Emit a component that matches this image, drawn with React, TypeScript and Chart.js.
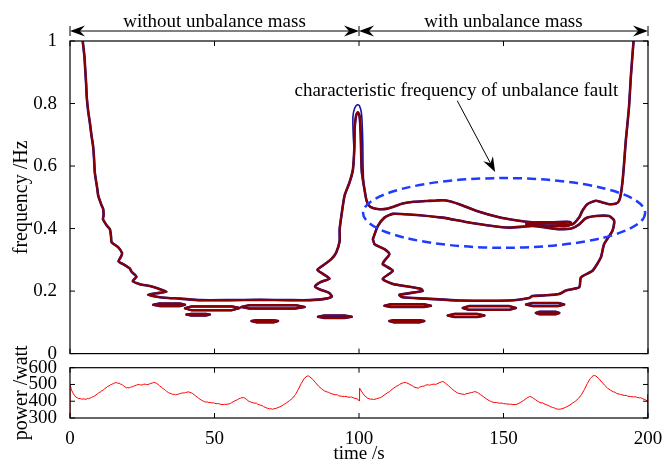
import React, { useEffect, useRef } from 'react';
import { Chart, registerables } from 'chart.js';
Chart.register(...registerables);

const FONT = "'Liberation Serif', 'Times New Roman', serif";

// ---------- axis ticks / labels ----------
const timeTicks = [0, 50, 100, 150, 200];
const freqTicks = [0, 0.2, 0.4, 0.6, 0.8, 1];
const freqTickLabels = ['0', '0.2', '0.4', '0.6', '0.8', '1'];
const powerTicks = [300, 400, 500, 600];
const powerTickLabels = ['300', '400', '500', '600'];
const freqTitle = 'frequency /Hz';
const powerTitle = 'power /watt';
const timeTitle = 'time /s';
const segmentBounds = [0, 100, 200];
const segmentLabels = ['without unbalance mass', 'with unbalance mass'];
const annotationText = 'characteristic frequency of unbalance fault';
// annotation anchor points in data units [time, frequency]
const annotationTextAt = [133.7, 0.824];
const annotationArrowFrom = [134, 0.809];
const annotationArrowTo = [147.1, 0.581];
const ellipseCenter = [150.2, 0.45];
const ellipseRadii = [48.8, 0.1115];

// ---------- contour curves [time s, frequency Hz] ----------
const contourMain = [
  [4.4, 1.0], [5.0, 0.95], [5.2, 0.92], [5.6, 0.86], [5.8, 0.82], [6.3, 0.775], [6.9, 0.737], [7.4, 0.7],
  [8.0, 0.663], [8.3, 0.627], [8.6, 0.578], [9.4, 0.53], [9.8, 0.504], [10.9, 0.475], [11.5, 0.462],
  [11.6, 0.44], [11.4, 0.43], [12.7, 0.41], [13.8, 0.398], [14.2, 0.375], [14.4, 0.356], [16.7, 0.34],
  [18.0, 0.322], [17.8, 0.313], [16.8, 0.295], [18.4, 0.286], [20.7, 0.272], [21.3, 0.262], [23, 0.246],
  [21.7, 0.232], [24.2, 0.222], [27.6, 0.216], [30.5, 0.208], [33.4, 0.198], [30, 0.193], [27, 0.188],
  [30, 0.182], [34, 0.178], [38, 0.176], [45, 0.171], [55, 0.171], [65.6, 0.172], [76, 0.171], [83, 0.171],
  [88, 0.175], [90.6, 0.183], [89.5, 0.195], [86.5, 0.205], [84.8, 0.215], [86.5, 0.228], [89.8, 0.24],
  [87.5, 0.255], [85.6, 0.268], [88, 0.285], [90.4, 0.302], [92.1, 0.323], [93.3, 0.36], [93.3, 0.397],
  [93.9, 0.44], [95, 0.505], [96.7, 0.547], [97.9, 0.589], [98.4, 0.66], [98.5, 0.72], [99.0, 0.762],
  [99.6, 0.772], [100.2, 0.76], [100.6, 0.7], [100.8, 0.62], [101.0, 0.58], [101.9, 0.525], [102.6, 0.49],
  [103.5, 0.473], [104.8, 0.466], [107, 0.462], [109.4, 0.463], [112, 0.47], [115.1, 0.48], [119, 0.486],
  [123.2, 0.488], [127, 0.49], [130.1, 0.49], [134.7, 0.478], [140.5, 0.457], [148.5, 0.436], [155.4, 0.425],
  [160, 0.42], [166, 0.418], [170.4, 0.414], [173.9, 0.414], [176.2, 0.436], [177.3, 0.457], [179, 0.478],
  [181.9, 0.489], [184, 0.484], [186.5, 0.478], [189, 0.48], [190, 0.489], [190.6, 0.51], [191.2, 0.552],
  [191.7, 0.605], [192.3, 0.679], [193.4, 0.785], [194.1, 0.89], [195, 1.0],
];
const contourPeakOuter = [
  [97.3, 0.56], [97.9, 0.589], [98.3, 0.64], [98.0, 0.7], [97.9, 0.758], [98.5, 0.785], [99.4, 0.796],
  [100.2, 0.792], [100.9, 0.765], [101.3, 0.68], [101.4, 0.6], [101.6, 0.55],
];
const contourBowl = [
  [104.8, 0.366], [106.5, 0.408], [108.8, 0.435], [111.7, 0.447], [117.4, 0.445], [128.9, 0.435],
  [137, 0.421], [146.2, 0.408], [152, 0.403], [160, 0.408], [165, 0.403], [169.3, 0.398], [173.5, 0.4],
  [176, 0.412], [178.5, 0.433], [182, 0.44], [186.5, 0.44], [188.3, 0.425], [187.7, 0.393], [184.8, 0.35],
  [183.7, 0.308], [180.8, 0.265], [176.8, 0.244], [176.2, 0.212], [171.6, 0.202], [169.3, 0.191],
  [164, 0.186], [160, 0.184], [158.9, 0.178], [152, 0.17], [134.7, 0.17], [123.2, 0.176], [115.1, 0.18],
  [114, 0.188], [122, 0.2], [121.5, 0.207], [111.7, 0.223], [108.2, 0.239], [111.7, 0.265], [108.2, 0.286],
  [108.8, 0.297], [110.5, 0.318], [108.8, 0.334], [105.4, 0.35], [104.8, 0.366],
];
const contourSliver = [
  [158, 0.418], [166, 0.42], [173, 0.421], [173.5, 0.415], [172, 0.408], [165, 0.41], [158, 0.412], [158, 0.418],
];
const islandA = [[28.8, 0.156], [31, 0.16], [38, 0.16], [39.8, 0.156], [38, 0.152], [31, 0.152], [28.8, 0.156]];
const islandB = [[39.8, 0.145], [42, 0.151], [56, 0.151], [58.7, 0.146], [56, 0.139], [42, 0.139], [39.8, 0.145]];
const islandC = [[59.3, 0.149], [62, 0.155], [78, 0.155], [81.2, 0.149], [78, 0.144], [62, 0.144], [59.3, 0.149]];
const islandD = [[40.3, 0.125], [42, 0.127], [47, 0.127], [48.4, 0.125], [47, 0.122], [42, 0.122], [40.3, 0.125]];
const islandE = [[62.8, 0.104], [64.5, 0.107], [70.5, 0.107], [72, 0.104], [70.5, 0.1], [64.5, 0.1], [62.8, 0.104]];
const islandF = [[85.8, 0.118], [88, 0.122], [95, 0.122], [97.5, 0.118], [95, 0.114], [88, 0.114], [85.8, 0.118]];
const islandG = [[108.8, 0.153], [111, 0.158], [122.5, 0.158], [124.9, 0.153], [122.5, 0.149], [111, 0.149], [108.8, 0.153]];
const islandH = [[135.9, 0.146], [138, 0.152], [152, 0.152], [154.3, 0.146], [152, 0.14], [138, 0.14], [135.9, 0.146]];
const islandI = [[130.7, 0.122], [133, 0.127], [141, 0.127], [143.4, 0.122], [141, 0.117], [133, 0.117], [130.7, 0.122]];
const islandJ = [[110.5, 0.104], [112, 0.107], [121, 0.107], [122.6, 0.104], [121, 0.1], [112, 0.1], [110.5, 0.104]];
const islandK = [[157.8, 0.157], [160, 0.162], [169, 0.162], [171, 0.157], [169, 0.152], [160, 0.152], [157.8, 0.157]];
const islandL = [[161.2, 0.13], [162.5, 0.134], [168, 0.134], [169.3, 0.13], [168, 0.126], [162.5, 0.126], [161.2, 0.13]];

const contourLines = [contourMain, contourBowl, contourSliver];
const contourIslands = [islandA, islandB, islandC, islandD, islandE, islandF, islandG, islandH, islandI, islandJ, islandK, islandL];

// ---------- power signal [time s, power W] ----------
const powerSeries = [
  [0, 300], [0, 500], [0.5, 468], [1, 450], [1.5, 436], [2, 425], [2.5, 421], [3, 415], [3.5, 417], [4, 412], [4.5, 414],
  [5, 413], [5.5, 411], [6, 416], [6.5, 415], [7, 420], [7.5, 423], [8, 428], [8.5, 431], [9, 438], [9.5, 443],
  [10, 452], [10.5, 455], [11, 462], [11.5, 467], [12, 475], [12.5, 480], [13, 488], [13.5, 491], [14, 498],
  [14.5, 501], [15, 506], [15.5, 509], [16, 512], [16.5, 507], [17, 508], [17.5, 502], [18, 500], [18.5, 491],
  [19, 486], [19.5, 480], [20, 482], [20.5, 479], [21, 484], [21.5, 486], [22, 490], [22.5, 493], [23, 496],
  [23.5, 499], [24, 500], [24.5, 496], [25, 498], [25.5, 501], [26, 502], [26.5, 499], [27, 500], [27.5, 503],
  [28, 506], [28.5, 509], [29, 512], [29.5, 510], [30, 506], [30.5, 500], [31, 492], [31.5, 486], [32, 478],
  [32.5, 472], [33, 465], [33.5, 458], [34, 452], [34.5, 448], [35, 445], [35.5, 441], [36, 442], [36.5, 438],
  [37, 440], [37.5, 443], [38, 445], [38.5, 448], [39, 450], [39.5, 449], [40, 452], [40.5, 454], [41, 456],
  [41.5, 453], [42, 450], [42.5, 445], [43, 438], [43.5, 431], [44, 425], [44.5, 418], [45, 412], [45.5, 406],
  [46, 402], [46.5, 397], [47, 395], [47.5, 396], [48, 392], [48.5, 393], [49, 390], [49.5, 391], [50, 388],
  [51, 385], [51.5, 386], [52, 382], [53, 380], [53.5, 382], [54, 381], [55, 384], [55.5, 387], [56, 392],
  [57, 402], [58, 410], [58.5, 415], [59, 418], [59.5, 421], [60, 422], [60.5, 418], [61, 412], [62, 398],
  [62.5, 396], [63, 392], [64, 388], [64.5, 389], [65, 382], [66, 376], [66.5, 374], [67, 368], [68, 360],
  [68.5, 358], [69, 354], [69.5, 356], [70, 352], [70.5, 355], [71, 356], [72, 362], [73, 370], [74, 380],
  [75, 392], [76, 404], [77, 418], [78, 440], [79, 470], [80, 505], [81, 535], [82, 550], [82.5, 551], [83, 545],
  [84, 530], [85, 510], [86, 490], [87, 475], [88, 462], [89, 455], [89.5, 453], [90, 448], [91, 442], [92, 438],
  [92.5, 439], [93, 432], [94, 430], [95, 428], [95.5, 429], [96, 425], [97, 424], [97.5, 425], [98, 420],
  [99, 416], [99.5, 414], [100, 402],
  [100.2, 478], [101, 455], [102, 432], [103, 418], [104, 412], [104.5, 413], [105, 410], [106, 414], [107, 420],
  [107.5, 422], [108, 428], [109, 440], [110, 452], [110.5, 456], [111, 465], [112, 478], [113, 490], [113.5, 493],
  [114, 500], [115, 508], [115.5, 511], [116, 512], [116.5, 509], [117, 506], [118, 496], [118.5, 492], [119, 485],
  [120, 480], [120.5, 478], [121, 484], [122, 490], [122.5, 489], [123, 496], [124, 498], [124.5, 495], [125, 500],
  [126, 502], [126.5, 499], [127, 504], [128, 512], [128.5, 515], [129, 518], [129.5, 513], [130, 506], [131, 492],
  [132, 476], [133, 462], [134, 450], [134.5, 447], [135, 445], [136, 442], [136.5, 440], [137, 444], [138, 448],
  [139, 452], [139.5, 454], [140, 458], [140.5, 455], [141, 452], [142, 440], [143, 428], [144, 415], [145, 404],
  [145.5, 400], [146, 396], [147, 392], [147.5, 393], [148, 390], [149, 388], [149.5, 389], [150, 386], [151, 384],
  [152, 382], [152.5, 383], [153, 380], [154, 380], [155, 384], [156, 394], [157, 405], [158, 418], [158.5, 423],
  [159, 428], [159.5, 426], [160, 422], [161, 410], [162, 398], [163, 390], [163.5, 391], [164, 385], [165, 378],
  [166, 370], [167, 362], [167.5, 361], [168, 356], [169, 352], [169.5, 353], [170, 354], [171, 360], [172, 368],
  [173, 378], [174, 390], [175, 402], [176, 418], [177, 440], [178, 470], [179, 505], [180, 535], [181, 552],
  [181.5, 554], [182, 550], [183, 535], [184, 515], [185, 495], [186, 478], [187, 466], [188, 456], [188.5, 454],
  [189, 448], [190, 442], [190.5, 441], [191, 438], [192, 434], [192.5, 435], [193, 430], [194, 428], [195, 426],
  [195.5, 427], [196, 424], [197, 420], [197.5, 421], [198, 416], [199, 410], [199.8, 400], [200, 440], [200, 300],
];

const RED = '#8a0000';
const BLUE = '#14149c';
const toXY = (arr: number[][]) => arr.map(([x, y]) => ({ x, y }));

function arrowHead(ctx: CanvasRenderingContext2D, tx: number, ty: number, ux: number, uy: number, len: number, hw: number, notch: number) {
  const bx = tx - ux * len, by = ty - uy * len;
  const px = -uy, py = ux;
  ctx.beginPath();
  ctx.moveTo(tx, ty);
  ctx.lineTo(bx + px * hw, by + py * hw);
  ctx.lineTo(tx - ux * (len - notch), ty - uy * (len - notch));
  ctx.lineTo(bx - px * hw, by - py * hw);
  ctx.closePath();
  ctx.fill();
}

function boxAndTicks(chart: any, xv: number[], yv: number[], len: number) {
  const { ctx, chartArea: a, scales } = chart;
  const x = scales.x, y = scales.y;
  ctx.save();
  ctx.strokeStyle = '#000';
  ctx.lineWidth = 1.2;
  ctx.strokeRect(a.left, a.top, a.right - a.left, a.bottom - a.top);
  ctx.lineWidth = 1;
  ctx.beginPath();
  xv.forEach((v) => {
    const p = x.getPixelForValue(v);
    ctx.moveTo(p, a.bottom); ctx.lineTo(p, a.bottom - len);
    ctx.moveTo(p, a.top); ctx.lineTo(p, a.top + len);
  });
  yv.forEach((v) => {
    const p = y.getPixelForValue(v);
    ctx.moveTo(a.left, p); ctx.lineTo(a.left + len, p);
    ctx.moveTo(a.right, p); ctx.lineTo(a.right - len, p);
  });
  ctx.stroke();
  ctx.restore();
}

function verticalTitle(ctx: CanvasRenderingContext2D, text: string, cx: number, cy: number) {
  ctx.save();
  ctx.translate(cx, cy);
  ctx.rotate(-Math.PI / 2);
  ctx.fillStyle = '#000';
  ctx.font = `20px ${FONT}`;
  ctx.textAlign = 'center';
  ctx.textBaseline = 'middle';
  ctx.fillText(text, 0, 0);
  ctx.restore();
}

const mainDecor = {
  id: 'mainDecor',
  afterDatasetsDraw(chart: any) {
    const { ctx, scales } = chart;
    const x = scales.x, y = scales.y;
    ctx.save();
    const cx = x.getPixelForValue(ellipseCenter[0]);
    const cy = y.getPixelForValue(ellipseCenter[1]);
    const rx = x.getPixelForValue(ellipseCenter[0] + ellipseRadii[0]) - cx;
    const ry = cy - y.getPixelForValue(ellipseCenter[1] + ellipseRadii[1]);
    ctx.beginPath();
    ctx.ellipse(cx, cy, rx, ry, 0, 0, Math.PI * 2);
    ctx.setLineDash([9, 5]);
    ctx.lineWidth = 2.5;
    ctx.strokeStyle = '#1e3cff';
    ctx.stroke();
    ctx.setLineDash([]);
    ctx.fillStyle = '#000';
    ctx.font = `19px ${FONT}`;
    ctx.textAlign = 'center';
    ctx.textBaseline = 'alphabetic';
    ctx.fillText(annotationText, x.getPixelForValue(annotationTextAt[0]), y.getPixelForValue(annotationTextAt[1]));
    const fx = x.getPixelForValue(annotationArrowFrom[0]), fy = y.getPixelForValue(annotationArrowFrom[1]);
    const tx = x.getPixelForValue(annotationArrowTo[0]), ty = y.getPixelForValue(annotationArrowTo[1]);
    const d = Math.hypot(tx - fx, ty - fy);
    const ux = (tx - fx) / d, uy = (ty - fy) / d;
    ctx.strokeStyle = '#000';
    ctx.lineWidth = 1;
    ctx.beginPath();
    ctx.moveTo(fx, fy);
    ctx.lineTo(tx - ux * 8, ty - uy * 8);
    ctx.stroke();
    arrowHead(ctx, tx, ty, ux, uy, 15, 5.5, 5);
    ctx.restore();
  },
  afterDraw(chart: any) {
    const { ctx, chartArea: a, scales } = chart;
    const x = scales.x;
    boxAndTicks(chart, timeTicks, freqTicks, 5);
    ctx.save();
    ctx.fillStyle = '#000';
    ctx.strokeStyle = '#000';
    const ay = a.top - 10;
    ctx.lineWidth = 1;
    ctx.beginPath();
    segmentBounds.forEach((b) => {
      const p = x.getPixelForValue(b);
      ctx.moveTo(p, ay - 5); ctx.lineTo(p, ay + 5);
    });
    ctx.stroke();
    ctx.font = `19px ${FONT}`;
    ctx.textAlign = 'center';
    ctx.textBaseline = 'alphabetic';
    for (let i = 0; i < segmentLabels.length; i++) {
      const p0 = x.getPixelForValue(segmentBounds[i]);
      const p1 = x.getPixelForValue(segmentBounds[i + 1]);
      ctx.beginPath();
      ctx.moveTo(p0 + 6, ay); ctx.lineTo(p1 - 6, ay);
      ctx.stroke();
      arrowHead(ctx, p0, ay, -1, 0, 15, 5.5, 5);
      arrowHead(ctx, p1, ay, 1, 0, 15, 5.5, 5);
      ctx.fillText(segmentLabels[i], (p0 + p1) / 2, a.top - 14);
    }
    ctx.restore();
    verticalTitle(ctx, freqTitle, 22, (a.top + a.bottom) / 2);
  },
};

const powerDecor = {
  id: 'powerDecor',
  afterDraw(chart: any) {
    const { ctx, chartArea: a, scales } = chart;
    boxAndTicks(chart, timeTicks, powerTicks, 5);
    verticalTitle(ctx, powerTitle, 22, (a.top + a.bottom) / 2);
    ctx.save();
    ctx.fillStyle = '#000';
    ctx.font = `19px ${FONT}`;
    ctx.textAlign = 'center';
    ctx.textBaseline = 'alphabetic';
    ctx.fillText(timeTitle, scales.x.getPixelForValue(100), a.bottom + 41);
    ctx.restore();
  },
};

export default function App() {
  const mainRef = useRef<HTMLCanvasElement>(null);
  const powerRef = useRef<HTMLCanvasElement>(null);

  useEffect(() => {
    const lineDs = (arr: number[][], color: string, width: number, order: number, tension: number) => ({
      data: toXY(arr),
      showLine: true,
      borderColor: color,
      borderWidth: width,
      pointRadius: 0,
      tension,
      order,
      borderJoinStyle: 'round' as const,
      borderCapStyle: 'round' as const,
    });
    const datasets: any[] = [];
    contourLines.forEach((c) => datasets.push(lineDs(c, RED, 2.1, 0, 0.2)));
    contourIslands.forEach((c) => datasets.push(lineDs(c, RED, 2.1, 0, 0)));
    contourLines.forEach((c) => datasets.push(lineDs(c, BLUE, 2.6, 1, 0.2)));
    contourIslands.forEach((c) => datasets.push(lineDs(c, BLUE, 2.5, 1, 0)));
    datasets.push(lineDs(contourPeakOuter, BLUE, 1.6, 1, 0.3));

    const tickFont = { family: FONT, size: 19 };
    const main = new Chart(mainRef.current!, {
      type: 'scatter',
      data: { datasets },
      options: {
        animation: false,
        responsive: false,
        maintainAspectRatio: false,
        layout: { padding: { top: 41, right: 17, bottom: 14.3, left: 0 } },
        plugins: { legend: { display: false }, tooltip: { enabled: false } },
        scales: {
          x: { type: 'linear', min: 0, max: 200, display: false },
          y: {
            type: 'linear', min: 0, max: 1,
            afterBuildTicks: (s: any) => { s.ticks = freqTicks.map((v) => ({ value: v })); },
            afterFit: (s: any) => { s.width = 70; },
            grid: { display: false },
            border: { display: false },
            ticks: { font: tickFont, color: '#000', padding: 5, autoSkip: false, callback: (_v: any, i: number) => freqTickLabels[i] },
          },
        },
      },
      plugins: [mainDecor],
    } as any);

    const power = new Chart(powerRef.current!, {
      type: 'scatter',
      data: { datasets: [lineDs(powerSeries, '#ff0000', 1, 0, 0)] },
      options: {
        animation: false,
        responsive: false,
        maintainAspectRatio: false,
        layout: { padding: { top: 27.7, right: 17, bottom: 0, left: 0 } },
        plugins: { legend: { display: false }, tooltip: { enabled: false } },
        scales: {
          x: {
            type: 'linear', min: 0, max: 200,
            afterBuildTicks: (s: any) => { s.ticks = timeTicks.map((v) => ({ value: v })); },
            afterFit: (s: any) => { s.height = 46; },
            grid: { display: false },
            border: { display: false },
            ticks: { font: tickFont, color: '#000', padding: 2, maxRotation: 0, autoSkip: false },
          },
          y: {
            type: 'linear', min: 300, max: 600,
            afterBuildTicks: (s: any) => { s.ticks = powerTicks.map((v) => ({ value: v })); },
            afterFit: (s: any) => { s.width = 70; },
            grid: { display: false },
            border: { display: false },
            ticks: { font: tickFont, color: '#000', padding: 5, autoSkip: false, callback: (_v: any, i: number) => powerTickLabels[i] },
          },
        },
      },
      plugins: [powerDecor],
    } as any);

    return () => { main.destroy(); power.destroy(); };
  }, []);

  return (
    <div style={{ position: 'absolute', left: 0, top: 0, width: 665, height: 464, background: '#fff', overflow: 'hidden' }}>
      <canvas ref={mainRef} width={665} height={370} style={{ position: 'absolute', left: 0, top: 0, width: 665, height: 370 }} />
      <canvas ref={powerRef} width={665} height={124} style={{ position: 'absolute', left: 0, top: 340, width: 665, height: 124 }} />
    </div>
  );
}
